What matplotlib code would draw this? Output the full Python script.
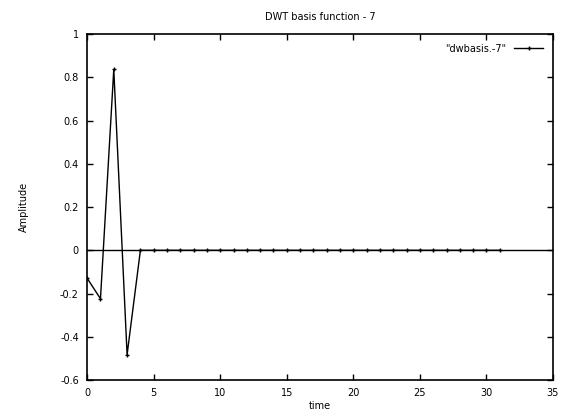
import matplotlib
matplotlib.use('Agg')
import matplotlib.pyplot as plt

# DWT basis function (Daubechies-4 wavelet), 32 samples
time = list(range(32))
amplitude = [-0.1294, -0.2241, 0.8365, -0.4830] + [0.0] * 28

x_ticks = [0, 5, 10, 15, 20, 25, 30, 35]
y_ticks = [-0.6, -0.4, -0.2, 0, 0.2, 0.4, 0.6, 0.8, 1]
y_tick_labels = ['-0.6', '-0.4', '-0.2', '0', '0.2', '0.4', '0.6', '0.8', '1']

FONTSIZE = 7
plt.rcParams['font.family'] = 'DejaVu Sans'

fig = plt.figure(figsize=(5.66, 4.16), dpi=100)
ax = fig.add_axes([0.154, 0.0865, 0.823, 0.8315])

ax.axhline(0, color='black', linewidth=1)
ax.plot(time, amplitude, color='black', linewidth=1, marker='+', markersize=3,
        markeredgewidth=1, label='"dwbasis.-7"')

ax.set_xlim(0, 35)
ax.set_ylim(-0.6, 1)
ax.set_xticks(x_ticks)
ax.set_yticks(y_ticks)
ax.set_yticklabels(y_tick_labels)
ax.tick_params(direction='in', top=True, right=True, length=4, width=1,
               labelsize=FONTSIZE, pad=6)
for s in ax.spines.values():
    s.set_linewidth(1.2)

ax.set_title('DWT basis function - 7', fontsize=FONTSIZE, pad=10)
ax.set_xlabel('time', fontsize=FONTSIZE, labelpad=2)
ax.set_ylabel('Amplitude', fontsize=FONTSIZE, labelpad=22)

ax.legend(loc='upper right', fontsize=FONTSIZE, frameon=False,
          markerfirst=False, handlelength=3, borderaxespad=0.6)

fig.savefig('out.png', dpi=100)
